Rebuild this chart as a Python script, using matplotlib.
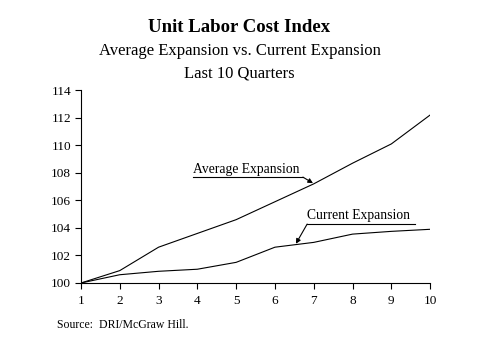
import matplotlib
matplotlib.use("Agg")
from matplotlib import pyplot as plt

quarters = [1, 2, 3, 4, 5, 6, 7, 8, 9, 10]
average_exp = [100.0, 100.9, 102.6, 103.6, 104.6, 105.9, 107.2, 108.7, 110.1, 112.2]
current_exp = [100.0, 100.6, 100.85, 101.0, 101.5, 102.6, 102.95, 103.55, 103.75, 103.9]
y_ticks = [100, 102, 104, 106, 108, 110, 112, 114]

plt.rcParams['font.family'] = ['Liberation Serif', 'DejaVu Serif']

fig = plt.figure(figsize=(4.79, 3.59), dpi=100)
ax = fig.add_axes([0.169, 0.2117, 0.729, 0.537])

ax.plot(quarters, average_exp, color='black', lw=0.8)
ax.plot(quarters, current_exp, color='black', lw=0.8)

ax.set_xlim(1, 10)
ax.set_ylim(100, 114)
ax.set_xticks(quarters)
ax.set_yticks(y_ticks)
ax.spines['top'].set_visible(False)
ax.spines['right'].set_visible(False)
for s in ('left', 'bottom'):
    ax.spines[s].set_linewidth(0.8)
ax.tick_params(axis='both', direction='out', length=4, width=0.8, labelsize=9.5, pad=3)
ax.tick_params(axis='x', pad=5)

# labels with underline leaders
ax.text(3.89, 107.8, 'Average Expansion', fontsize=9.8, ha='left', va='bottom')
ax.plot([3.89, 6.72], [107.69, 107.69], color='black', lw=0.8)
ax.annotate('', xy=(6.98, 107.25), xytext=(6.72, 107.69),
            arrowprops=dict(arrowstyle='-|>', color='black', lw=0.8, mutation_scale=7,
                            shrinkA=0, shrinkB=0))

ax.text(6.83, 104.4, 'Current Expansion', fontsize=9.8, ha='left', va='bottom')
ax.plot([6.83, 9.61], [104.28, 104.28], color='black', lw=0.8)
ax.annotate('', xy=(6.54, 102.85), xytext=(6.83, 104.28),
            arrowprops=dict(arrowstyle='-|>', color='black', lw=0.8, mutation_scale=7,
                            shrinkA=0, shrinkB=0))

fig.text(0.5, 1 - 28 / 359, 'Unit Labor Cost Index', ha='center', va='center',
         fontsize=13.5, fontweight='bold')
fig.text(0.5, 1 - 51 / 359, 'Average Expansion vs. Current Expansion', ha='center', va='center',
         fontsize=12)
fig.text(0.5, 1 - 73 / 359, 'Last 10 Quarters', ha='center', va='center', fontsize=12)
fig.text(57 / 479, 1 - 325 / 359, 'Source:  DRI/McGraw Hill.', ha='left', va='center', fontsize=8.5)

fig.savefig('out.png', dpi=100)
